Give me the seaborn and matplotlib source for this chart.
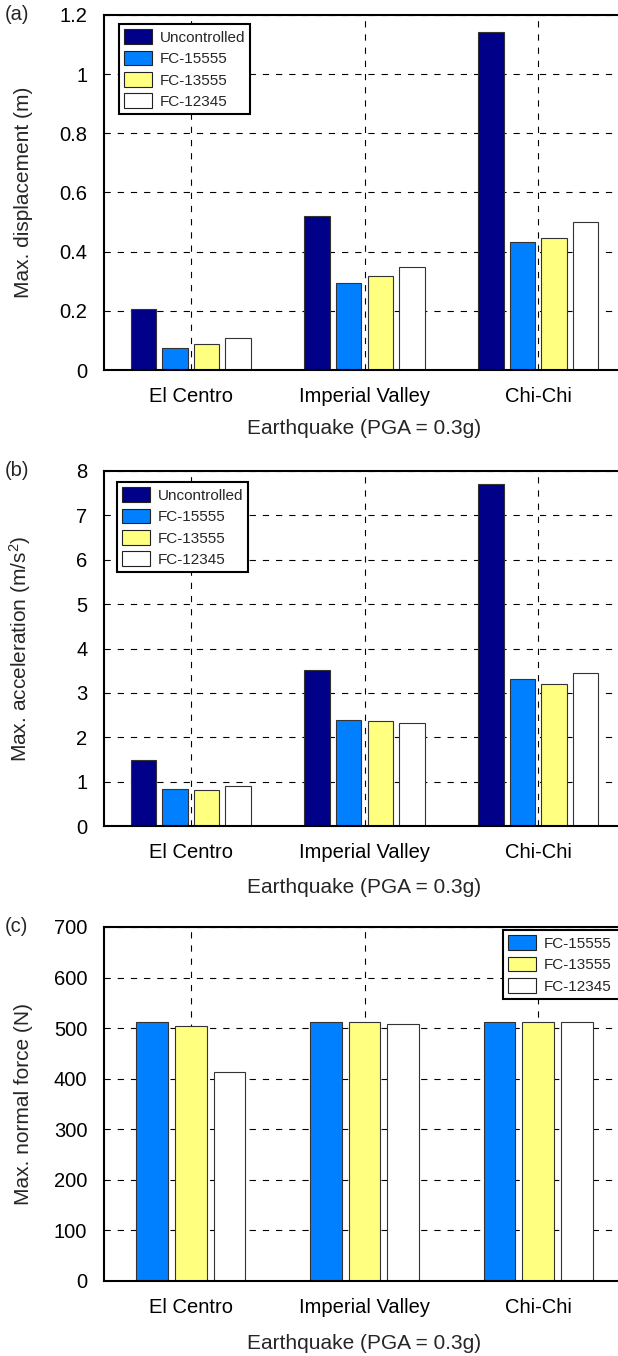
import matplotlib
matplotlib.use("Agg")
import matplotlib.pyplot as plt
import seaborn as sns
import pandas as pd
from matplotlib.ticker import FormatStrFormatter

# ---------------- data ----------------
earthquakes = ["El Centro", "Imperial Valley", "Chi-Chi"]
cases_ab = ["Uncontrolled", "FC-15555", "FC-13555", "FC-12345"]
cases_c = ["FC-15555", "FC-13555", "FC-12345"]

disp_uncontrolled = [0.207, 0.522, 1.141]
disp_fc15555 = [0.073, 0.295, 0.434]
disp_fc13555 = [0.087, 0.319, 0.446]
disp_fc12345 = [0.108, 0.348, 0.499]

acc_uncontrolled = [1.49, 3.52, 7.70]
acc_fc15555 = [0.84, 2.40, 3.31]
acc_fc13555 = [0.82, 2.37, 3.20]
acc_fc12345 = [0.91, 2.33, 3.44]

force_fc15555 = [512, 513, 513]
force_fc13555 = [504, 513, 513]
force_fc12345 = [413, 508, 513]

colors = {"Uncontrolled": "#000088", "FC-15555": "#0080FF",
          "FC-13555": "#FFFF80", "FC-12345": "#FFFFFF"}

def long_df(series, names):
    rows = []
    for name, vals in zip(names, series):
        for eq, v in zip(earthquakes, vals):
            rows.append({"Earthquake": eq, "Case": name, "value": v})
    return pd.DataFrame(rows)

df_a = long_df([disp_uncontrolled, disp_fc15555, disp_fc13555, disp_fc12345], cases_ab)
df_b = long_df([acc_uncontrolled, acc_fc15555, acc_fc13555, acc_fc12345], cases_ab)
df_c = long_df([force_fc15555, force_fc13555, force_fc12345], cases_c)

# ---------------- style ----------------
sns.set_style("white")
plt.rcParams["font.family"] = ["Liberation Sans", "DejaVu Sans"]
plt.rcParams["mathtext.fontset"] = "custom"
plt.rcParams["mathtext.rm"] = "Liberation Sans"
plt.rcParams["mathtext.it"] = "Liberation Sans:italic"
plt.rcParams["lines.scale_dashes"] = False

W, H = 618, 1356
fig = plt.figure(figsize=(W / 100, H / 100), dpi=100)

def make_ax(top, bottom):
    return fig.add_axes([104 / W, 1 - bottom / H, (625 - 104) / W, (bottom - top) / H])

panels = [
    dict(df=df_a, top=15, bottom=370, ylim=(0, 1.2), yticks=[0, 0.2, 0.4, 0.6, 0.8, 1.0, 1.2],
         ylabel="Max. displacement (m)", tag="(a)", width=0.728, gap=0.19,
         leg=(15, 9, 0), order=cases_ab, xl=-0.137),
    dict(df=df_b, top=471, bottom=826, ylim=(0, 8), yticks=list(range(0, 9)),
         ylabel="Max. acceleration (m/s$^2$)", tag="(b)", width=0.728, gap=0.19,
         leg=(13, 11, 0), order=cases_ab, xl=-0.147),
    dict(df=df_c, top=927, bottom=1281, ylim=(0, 700), yticks=list(range(0, 701, 100)),
         ylabel="Max. normal force (N)", tag="(c)", width=0.6675, gap=0.184,
         leg=(399, 3, 135), order=cases_c, xl=-0.15),
]

for p in panels:
    ax = make_ax(p["top"], p["bottom"])
    sns.barplot(data=p["df"], x="Earthquake", y="value", hue="Case",
                hue_order=p["order"], order=earthquakes,
                palette=[colors[c] for c in p["order"]],
                width=p["width"], gap=p["gap"], saturation=1,
                edgecolor="#333333", linewidth=0.8, ax=ax)
    ax.set_xlim(-0.5, 2.5)
    ax.set_ylim(*p["ylim"])
    ax.set_yticks(p["yticks"])
    ax.yaxis.set_major_formatter(FormatStrFormatter("%g"))
    ax.set_axisbelow(True)
    ax.grid(True, color="black", linestyle=(0, (4.5, 5)), linewidth=0.8)
    for s in ["left", "top", "bottom", "right"]:
        ax.spines[s].set_color("black")
        ax.spines[s].set_linewidth(1.5)
    ax.tick_params(axis="both", length=0, pad=12, labelsize=14.5, colors="black")
    ax.set_ylabel(p["ylabel"], fontsize=15)
    ax.yaxis.set_label_coords(-0.137, 0.5)
    ax.set_xlabel("Earthquake (PGA = 0.3g)", fontsize=15)
    ax.xaxis.set_label_coords(0.5, p["xl"])
    axw = 625 - 104
    axh = p["bottom"] - p["top"]
    lx, ly, lw = p["leg"]
    legkw = dict(title=None, fontsize=11, frameon=True, fancybox=False,
                 edgecolor="black", framealpha=1, borderaxespad=0,
                 handlelength=1.8, handleheight=1.1, labelspacing=0.38,
                 handletextpad=0.5, borderpad=0.35)
    if lw:
        sns.move_legend(ax, "upper left",
                        bbox_to_anchor=(lx / axw, 1 - ly / axh, lw / axw, 0),
                        mode="expand", **legkw)
    else:
        sns.move_legend(ax, "upper left",
                        bbox_to_anchor=(lx / axw, 1 - ly / axh), **legkw)
    leg = ax.get_legend()
    leg.get_frame().set_linewidth(1.5)
    for h in leg.legend_handles:
        h.set_edgecolor("#222222")
        h.set_linewidth(0.8)
    fig.text(5 / W, 1 - (p["top"]) / H, p["tag"], fontsize=14.5, ha="left", va="center")

fig.savefig("out.png", dpi=100)
